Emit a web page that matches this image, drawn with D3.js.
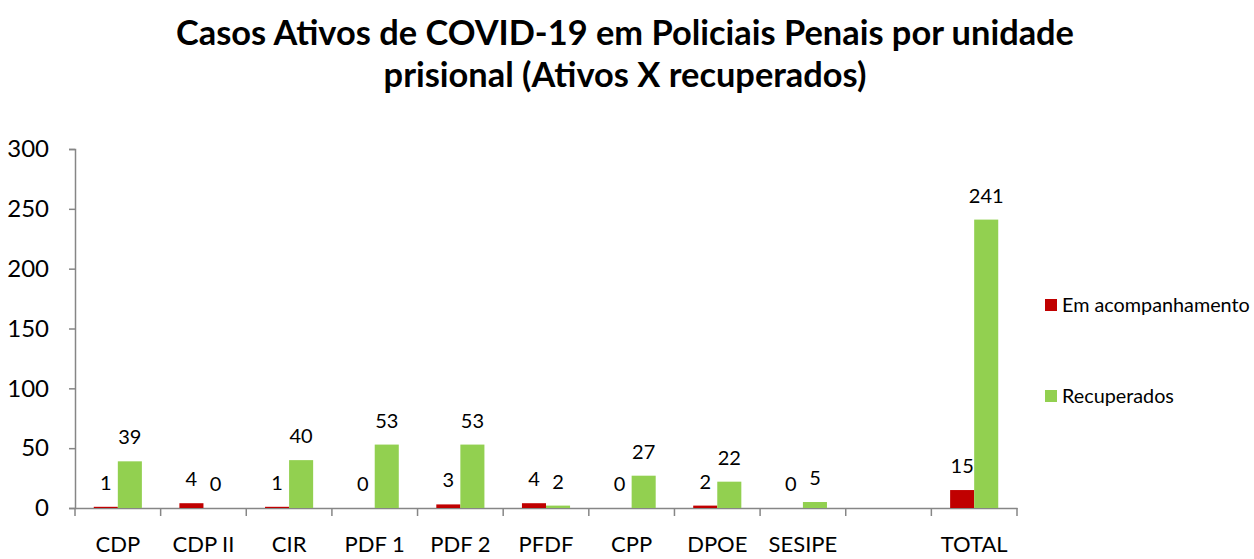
<html>
<head>
    <style>
        body { margin: 0; background: #fff; }
        text { font-family: Lato, "Open Sans", sans-serif; fill: #000; }
    </style>
</head>
<body>
    <svg id="container" width="1254" height="559"></svg>
<script src="https://d3js.org/d3.v7.min.js"></script>
<script>
    // chart data
    const categories = ["CDP", "CDP II", "CIR", "PDF 1", "PDF 2", "PFDF", "CPP", "DPOE", "SESIPE", "", "TOTAL"]
    const emAcompanhamento = [1, 4, 1, 0, 3, 4, 0, 2, 0, null, 15]
    const recuperados = [39, 0, 40, 53, 53, 2, 27, 22, 5, null, 241]
    const seriesNames = ["Em acompanhamento", "Recuperados"]
    const seriesColors = ["#C00000", "#92D050"]
    const yTicks = [0, 50, 100, 150, 200, 250, 300]
    const titleLines = ["Casos Ativos de COVID-19 em Policiais Penais por unidade", "prisional (Ativos X recuperados)"]

    const svg = d3.select("#container")
    const axisColor = "#868686"

    // title
    svg.append("text")
        .attr("x", 625).attr("y", 45)
        .attr("text-anchor", "middle")
        .style("font-size", "34.4px").style("font-weight", "bold")
        .text(titleLines[0])
    svg.append("text")
        .attr("x", 625).attr("y", 87)
        .attr("text-anchor", "middle")
        .style("font-size", "34.4px").style("font-weight", "bold")
        .text(titleLines[1])

    // scales
    let xScale = d3.scaleBand()
        .domain(d3.range(categories.length))
        .range([75, 1017])
    let xInner = d3.scaleBand()
        .domain(seriesNames)
        .range([0, xScale.bandwidth()])
        .paddingOuter(0.78)
    let yScale = d3.scaleLinear()
        .domain([0, 300])
        .range([508, 149])

    // y axis
    let yAxis = svg.append("g")
        .attr("transform", "translate(75,0)")
        .call(d3.axisLeft(yScale).tickValues(yTicks).tickSize(6).tickPadding(20))
    yAxis.selectAll("text").style("font-size", "24px").attr("font-family", null)
    yAxis.selectAll("line, path").attr("stroke", axisColor).attr("stroke-width", 1.5)

    // x axis: labels only, ticks drawn at the band edges
    let xAxis = svg.append("g")
        .attr("transform", "translate(0,508)")
        .call(d3.axisBottom(xScale).tickSize(0).tickPadding(28).tickFormat(i => categories[i]))
    xAxis.selectAll("text").style("font-size", "22px").attr("font-family", null)
    xAxis.select("path").attr("stroke", axisColor).attr("stroke-width", 1.5)

    let edges = d3.range(categories.length + 1).map(i => 75 + i * xScale.step())
    svg.append("g").selectAll("line")
        .data(edges)
        .join("line")
        .attr("x1", d => d).attr("x2", d => d)
        .attr("y1", 508).attr("y2", 516)
        .attr("stroke", axisColor).attr("stroke-width", 1.5)

    // bars
    const seriesValues = [emAcompanhamento, recuperados]
    seriesNames.forEach((name, s) => {
        let rows = categories.map((c, i) => ({ i: i, v: seriesValues[s][i] })).filter(d => d.v !== null)
        svg.append("g").selectAll("rect")
            .data(rows)
            .join("rect")
            .attr("x", d => xScale(d.i) + xInner(name))
            .attr("width", xInner.bandwidth())
            .attr("y", d => yScale(d.v))
            .attr("height", d => yScale(0) - yScale(d.v))
            .attr("fill", seriesColors[s])

        svg.append("g").selectAll("text")
            .data(rows)
            .join("text")
            .attr("x", d => xScale(d.i) + xInner(name) + xInner.bandwidth() / 2)
            .attr("y", d => yScale(d.v) - 17)
            .attr("text-anchor", "middle")
            .style("font-size", "20px")
            .text(d => d.v)
    })

    // legend
    let legend = svg.append("g")
    seriesNames.forEach((name, s) => {
        let ly = 305 + s * 91
        legend.append("rect")
            .attr("x", 1045).attr("y", ly - 6)
            .attr("width", 12).attr("height", 12)
            .attr("fill", seriesColors[s])
        legend.append("text")
            .attr("x", 1062).attr("y", ly)
            .attr("dy", "0.35em")
            .style("font-size", "19.8px")
            .text(name)
    })
</script>
</body>
</html>
